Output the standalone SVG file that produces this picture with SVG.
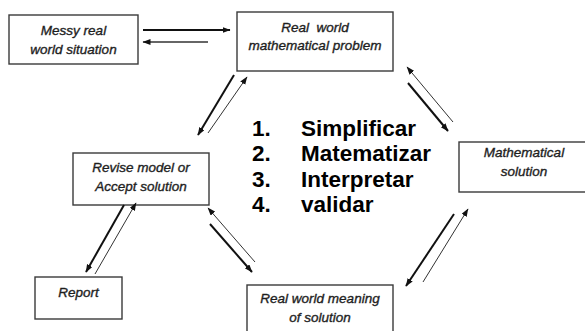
<svg xmlns="http://www.w3.org/2000/svg" width="585" height="331" viewBox="0 0 585 331">
  <defs>
    <style>
      .box { fill: #ffffff; stroke: #3a3a3a; stroke-width: 1.4; }
      .lbl { font-family: "Liberation Sans", Arial, sans-serif; font-style: italic; font-size: 13.5px; fill: #1e1e1e; stroke: #1e1e1e; stroke-width: 0.35; text-anchor: middle; }
      .step { font-family: "Liberation Sans", Arial, sans-serif; font-weight: bold; font-size: 22.5px; fill: #000000; }
      .thick { stroke: #111111; stroke-width: 2; fill: none; marker-end: url(#ah); }
      .thin { stroke: #333333; stroke-width: 1; fill: none; marker-end: url(#ah); }
    </style>
    <marker id="ah" markerUnits="userSpaceOnUse" markerWidth="9" markerHeight="7" refX="7.5" refY="3" orient="auto">
      <path d="M0,0 L8,3 L0,6 z" fill="#111111"/>
    </marker>
  </defs>
  <rect width="585" height="331" fill="#ffffff"/>

  <g id="messy">
    <rect class="box" x="9" y="15" width="129" height="49"/>
    <text class="lbl" x="73.5" y="34.5">Messy real</text>
    <text class="lbl" x="73.5" y="53.5">world situation</text>
  </g>
  <g id="problem">
    <rect class="box" x="237" y="12" width="156" height="59"/>
    <text class="lbl" x="315" y="32" xml:space="preserve">Real  world</text>
    <text class="lbl" x="315" y="49.5">mathematical problem</text>
  </g>
  <g id="solution">
    <rect class="box" x="459" y="142" width="131" height="50"/>
    <text class="lbl" x="524" y="157">Mathematical</text>
    <text class="lbl" x="524" y="175.5">solution</text>
  </g>
  <g id="revise">
    <rect class="box" x="73" y="153" width="136" height="52"/>
    <text class="lbl" x="141" y="172">Revise model or</text>
    <text class="lbl" x="141" y="191">Accept solution</text>
  </g>
  <g id="report">
    <rect class="box" x="35" y="277" width="87" height="42"/>
    <text class="lbl" x="78.5" y="297">Report</text>
  </g>
  <g id="meaning">
    <rect class="box" x="247" y="285" width="146" height="50"/>
    <text class="lbl" x="320" y="303">Real world meaning</text>
    <text class="lbl" x="320" y="322">of solution</text>
  </g>

  <g id="steps">
    <text class="step" x="252" y="136">1.</text>
    <text class="step" x="301" y="136">Simplificar</text>
    <text class="step" x="252" y="161">2.</text>
    <text class="step" x="301" y="161">Matematizar</text>
    <text class="step" x="252" y="187">3.</text>
    <text class="step" x="301" y="187">Interpretar</text>
    <text class="step" x="252" y="212">4.</text>
    <text class="step" x="301" y="212">validar</text>
  </g>

  <g id="connectors">
    <line class="thick" x1="143" y1="30" x2="230" y2="30"/>
    <line class="thin" x1="208" y1="42" x2="143" y2="42" style="stroke-width:1.5"/>
    <line class="thick" x1="234" y1="75" x2="198" y2="135"/>
    <line class="thin" x1="208" y1="133" x2="247" y2="77"/>
    <line class="thin" x1="453" y1="122" x2="407" y2="67"/>
    <line class="thick" x1="408" y1="83" x2="448" y2="131"/>
    <line class="thick" x1="454" y1="214" x2="406" y2="286"/>
    <line class="thin" x1="423" y1="282" x2="468" y2="209"/>
    <line class="thin" x1="255" y1="262" x2="208" y2="208"/>
    <line class="thick" x1="210" y1="224" x2="252" y2="272"/>
    <line class="thick" x1="124" y1="205" x2="86" y2="272"/>
    <line class="thin" x1="95" y1="274" x2="136" y2="203"/>
  </g>
</svg>
